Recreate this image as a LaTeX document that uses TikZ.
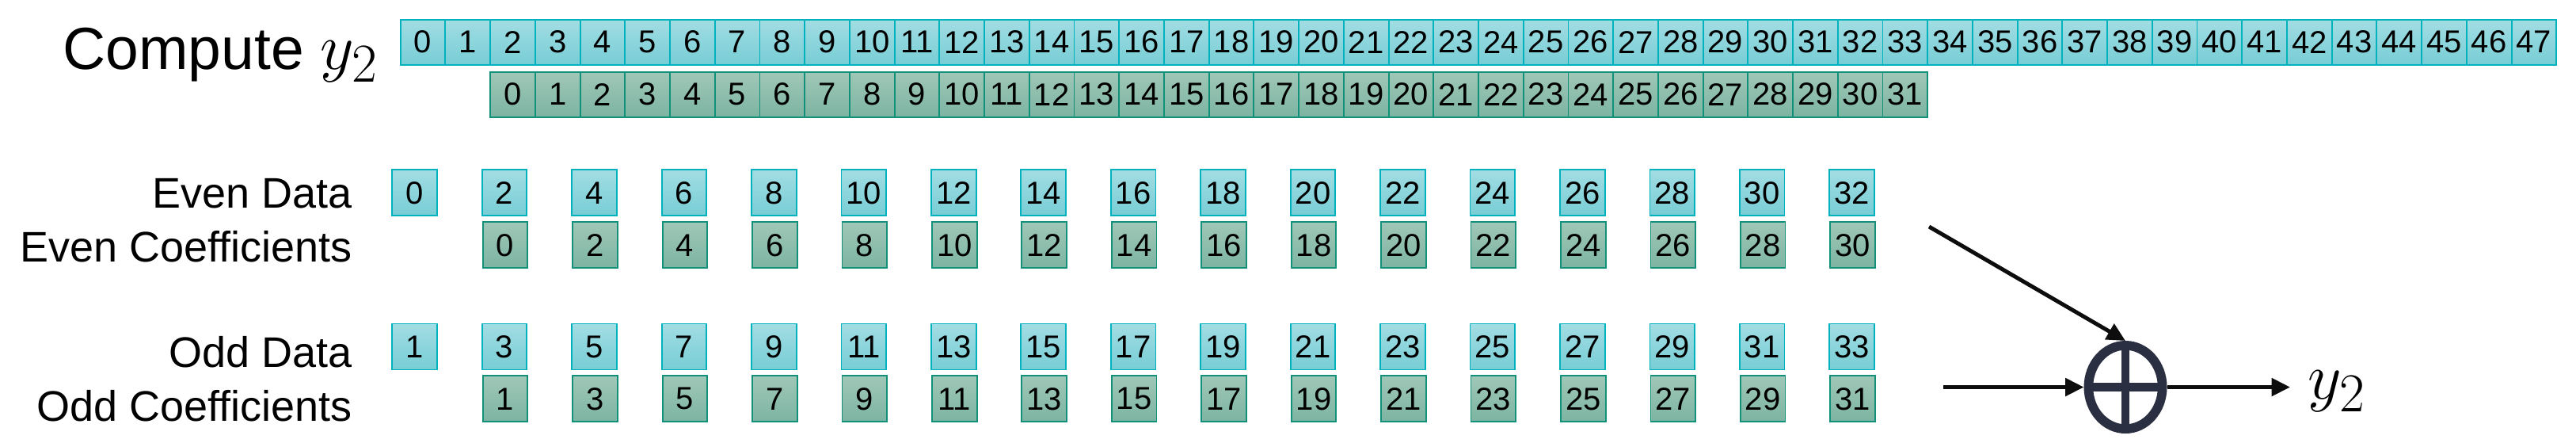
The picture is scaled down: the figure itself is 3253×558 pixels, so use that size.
\documentclass[tikz,border=0pt]{standalone}
\usepackage{fontspec}
\setmainfont{Liberation Sans}
\usetikzlibrary{shapes.geometric,arrows.meta}
\definecolor{cytop}{RGB}{162,221,227}
\definecolor{cybot}{RGB}{119,205,213}
\definecolor{cybord}{RGB}{0,178,190}
\definecolor{grtop}{RGB}{160,199,183}
\definecolor{grbot}{RGB}{124,180,162}
\definecolor{grbord}{RGB}{18,145,122}
\definecolor{sumcol}{RGB}{43,47,66}
\definecolor{arrcol}{RGB}{13,13,13}
\begin{document}
\begin{tikzpicture}[x=0.3pt,y=-0.3pt,
  cell/.style={inner sep=0pt, outer sep=0pt, minimum width=17.0pt, minimum height=17.1pt,
    line width=0.55pt, font=\fontsize{12}{12}\selectfont},
  dcell/.style={cell, draw=cybord, top color=cytop, bottom color=cybot},
  ccell/.style={cell, draw=grbord, top color=grtop, bottom color=grbot},
  dbox/.style={dcell, minimum height=17.4pt},
  cbox/.style={ccell, minimum height=17.4pt},
  lab/.style={anchor=base east, inner sep=0pt, font=\fontsize{16.2}{19}\selectfont},
  arr/.style={draw=arrcol, line width=1.5pt, -{Triangle[length=7pt,width=6.6pt]}},
  sumnode/.style={ellipse, draw=sumcol, line width=3.5pt, minimum width=28pt,
    minimum height=31.6pt, inner sep=0pt},
  crossline/.style={draw=sumcol, line width=3.2pt, shorten <=1.75pt, shorten >=1.75pt}
]
\useasboundingbox (0,0) rectangle (3253,558);

% title
\node[anchor=base west, inner sep=0pt, font=\fontsize{22.5}{27}\selectfont] (title) at (79,87)
  {Compute {\fontsize{29}{32}\selectfont$y_2$}};

% full data row and coefficient row
\foreach \i in {0,...,47} \node[dcell] (t\i) at ({534.06+56.72*\i},53.2) {\i};
\foreach \i in {0,...,31} \node[ccell] (c\i) at ({647.5+56.72*\i},119.2) {\i};

% labels
\node[lab] (led) at (445.5,262.7) {Even Data};
\node[lab] (lec) at (445.5,330.7) {Even Coefficients};
\node[lab] (lod) at (445.5,463.3) {Odd Data};
\node[lab] (loc) at (445.5,531) {Odd Coefficients};

% even / odd rows
\foreach \k in {0,...,16} {
  \pgfmathtruncatemacro\ev{2*\k}
  \pgfmathtruncatemacro\ov{2*\k+1}
  \node[dbox] (ed\k) at ({523.6+113.44*\k},243.3) {\ev};
  \node[dbox] (od\k) at ({523.6+113.44*\k},437.5) {\ov};
}
\foreach \k in {1,...,16} {
  \pgfmathtruncatemacro\ec{2*\k-2}
  \pgfmathtruncatemacro\oc{2*\k-1}
  \node[cbox] (ec\k) at ({524.6+113.44*\k},309.3) {\ec};
  \node[cbox] (oc\k) at ({524.6+113.44*\k},503.3) {\oc};
}

% adder
\node[sumnode] (sum) at (2684,488.5) {};
\draw[crossline] (sum.north) -- (sum.south);
\draw[crossline] (sum.west) -- (sum.east);

\coordinate (ein) at (2436,286);
\coordinate (oin) at (2454,488.5);
\coordinate (yout) at (2892,488.5);
\draw[arr] (ein) -- (sum.north);
\draw[arr] (oin) -- (sum.west);
\draw[arr] (sum.east) -- (yout);
\node[anchor=base west, inner sep=0pt, font=\fontsize{29}{32}\selectfont] (ylab) at (2914,503) {$y_2$};
\end{tikzpicture}
\end{document}
